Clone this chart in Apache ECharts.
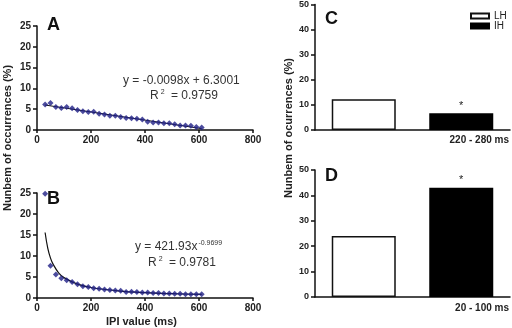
<!DOCTYPE html>
<html>
<head>
<meta charset="utf-8">
<script src="https://cdn.jsdelivr.net/npm/echarts@6/dist/echarts.min.js"></script>
<style>
  html, body { margin: 0; padding: 0; background: #fff; }
  #chart { width: 512px; height: 328px; }
</style>
</head>
<body>
<div id="chart"></div>
<script>
// IPI bins (ms)
const ipiX = [30, 50, 70, 90, 110, 130, 150, 170, 190, 210, 230, 250, 270, 290, 310,
  330, 350, 370, 390, 410, 430, 450, 470, 490, 510, 530, 550, 570, 590, 610];
// panel A, occurrences (%)
const occA = [6.1, 6.5, 5.5, 5.3, 5.5, 5.2, 4.8, 4.5, 4.3, 4.4, 3.9, 3.7, 3.4, 3.4, 3.1,
  2.9, 2.8, 2.7, 2.5, 2.0, 1.8, 1.8, 1.6, 1.6, 1.4, 1.1, 1.1, 1.0, 0.7, 0.6];
// panel B, occurrences (%)
const occB = [24.8, 7.7, 5.6, 4.7, 4.2, 3.8, 3.3, 2.8, 2.6, 2.3, 2.2, 2.0, 1.9, 1.8, 1.7,
  1.4, 1.5, 1.4, 1.3, 1.3, 1.2, 1.2, 1.1, 1.1, 1.0, 1.0, 0.9, 0.9, 0.9, 0.9];
// fitted lines
const fitAX = [30, 610];
const fitAY = [6.0, 0.32];
const fitBX = [30, 40, 50, 60, 80, 100, 150, 200, 300, 400, 500, 610];
const fitBY = [15.6, 11.8, 9.5, 8.0, 6.0, 4.85, 3.3, 2.5, 1.7, 1.26, 1.02, 0.84];
// bar panels
const groups = ['LH', 'IH'];
const barC = [12.3, 6.7];
const barD = [24.0, 43.0];

const pairs = (xs, ys) => xs.map((x, i) => [x, ys[i]]);

const tickFont = { fontFamily: 'Liberation Sans, Arial', fontWeight: 'bold', fontSize: 10, color: '#222' };
const axisLine = { show: true, lineStyle: { color: '#111', width: 1.5 } };

function valX(gridIndex) {
  return {
    type: 'value', gridIndex: gridIndex, min: 0, max: 800, interval: 200,
    axisLine: axisLine, axisTick: { show: true, length: 3, lineStyle: { color: '#111', width: 1.5 } },
    axisLabel: Object.assign({ margin: 5 }, tickFont), splitLine: { show: false }
  };
}
function valY(gridIndex, max, interval, fontSize) {
  return {
    type: 'value', gridIndex: gridIndex, min: 0, max: max, interval: interval,
    axisLine: axisLine, axisTick: { show: true, length: 4, lineStyle: { color: '#111', width: 1.5 } },
    axisLabel: Object.assign({}, tickFont, { margin: 6, fontSize: fontSize }), splitLine: { show: false }
  };
}
function catX(gridIndex) {
  return {
    type: 'category', gridIndex: gridIndex, data: groups,
    axisLine: axisLine, axisTick: { show: false }, axisLabel: { show: false }
  };
}

const barStyles = [
  { color: '#fff', borderColor: '#111', borderWidth: 1.5 },
  { color: '#000', borderColor: '#000', borderWidth: 1.5 }
];

function barSeries(idx, values) {
  return groups.map((g, i) => ({
    name: g, type: 'bar', xAxisIndex: idx, yAxisIndex: idx, stack: 'p' + idx,
    barWidth: 64,
    itemStyle: barStyles[i],
    label: i === 1 ? { show: true, position: 'top', formatter: '*', fontSize: 11, color: '#222', distance: 2 } : { show: false },
    data: groups.map((_, j) => (j === i ? values[i] : '-'))
  }));
}

const letterFont = 'bold 18px Liberation Sans, Arial';
const eqFont = '12px Liberation Sans, Arial';
const supRich = { n: { fontSize: 12, fill: '#333' }, s: { fontSize: 7, fill: '#333', padding: [0, 3, 7, 2] } };

const chart = echarts.init(document.getElementById('chart'));
chart.setOption({
  animation: false,
  textStyle: { fontFamily: 'Liberation Sans, Arial' },
  grid: [
    { left: 37, top: 26, width: 216, height: 104 },
    { left: 37, top: 193, width: 216, height: 105 },
    { left: 315, top: 3, width: 195, height: 127 },
    { left: 315, top: 170, width: 195, height: 127 }
  ],
  xAxis: [valX(0), valX(1), catX(2), catX(3)],
  yAxis: [valY(0, 25, 5, 10), valY(1, 25, 5, 10), valY(2, 50, 10, 9), valY(3, 50, 10, 9)],
  legend: {
    data: groups, left: 470, top: 11, orient: 'vertical', align: 'left', padding: 0,
    itemWidth: 18, itemHeight: 5, itemGap: 0, icon: 'rect', selectedMode: false,
    textStyle: { fontSize: 10, lineHeight: 8, color: '#222' }
  },
  series: [
    {
      type: 'scatter', xAxisIndex: 0, yAxisIndex: 0, symbol: 'diamond', symbolSize: 6,
      itemStyle: { color: '#1f1f86' }, data: pairs(ipiX, occA), z: 3
    },
    {
      type: 'line', xAxisIndex: 0, yAxisIndex: 0, showSymbol: false,
      lineStyle: { color: '#111', width: 1 }, data: pairs(fitAX, fitAY)
    },
    {
      type: 'scatter', xAxisIndex: 1, yAxisIndex: 1, symbol: 'diamond', symbolSize: 6,
      itemStyle: { color: '#1f1f86' }, data: pairs(ipiX, occB), z: 3
    },
    {
      type: 'line', xAxisIndex: 1, yAxisIndex: 1, showSymbol: false, smooth: 0.4,
      lineStyle: { color: '#111', width: 1.2 }, data: pairs(fitBX, fitBY)
    }
  ].concat(barSeries(2, barC), barSeries(3, barD)),
  graphic: [
    { type: 'text', left: 47, top: 16, style: { text: 'A', font: letterFont, fill: '#111' } },
    { type: 'text', left: 47, top: 190, style: { text: 'B', font: letterFont, fill: '#111' } },
    { type: 'text', left: 325, top: 10, style: { text: 'C', font: letterFont, fill: '#111' } },
    { type: 'text', left: 325, top: 167, style: { text: 'D', font: letterFont, fill: '#111' } },
    { type: 'text', left: 123, top: 75, style: { text: 'y = -0.0098x + 6.3001', font: eqFont, fill: '#333' } },
    {
      type: 'text', left: 150, top: 89,
      style: { text: '{n|R}{s|2}{n| = 0.9759}', font: eqFont, fill: '#333', rich: supRich }
    },
    {
      type: 'text', left: 135, top: 240,
      style: {
        text: '{n|y = 421.93x}{s|-0.9699}', font: eqFont, fill: '#333',
        rich: { n: { fontSize: 12, fill: '#333' }, s: { fontSize: 7, fill: '#333', padding: [0, 0, 7, 1] } }
      }
    },
    {
      type: 'text', left: 148, top: 256,
      style: { text: '{n|R}{s|2}{n| = 0.9781}', font: eqFont, fill: '#333', rich: supRich }
    },
    { type: 'text', right: 3, top: 135, style: { text: '220 - 280 ms', font: 'bold 10px Liberation Sans, Arial', fill: '#222' } },
    { type: 'text', right: 3, top: 303, style: { text: '20 - 100 ms', font: 'bold 10px Liberation Sans, Arial', fill: '#222' } },
    { type: 'text', left: 106, top: 316, style: { text: 'IPI value (ms)', font: 'bold 11px Liberation Sans, Arial', fill: '#222' } },
    {
      type: 'text', x: 8, y: 138, rotation: Math.PI / 2,
      style: { text: 'Nunbem of occurrences (%)', font: 'bold 11px Liberation Sans, Arial', fill: '#222', align: 'center', verticalAlign: 'middle' }
    },
    {
      type: 'text', x: 289, y: 128, rotation: Math.PI / 2,
      style: { text: 'Nunbem of ocurrences (%)', font: 'bold 11px Liberation Sans, Arial', fill: '#222', align: 'center', verticalAlign: 'middle' }
    }
  ]
});
</script>
</body>
</html>
